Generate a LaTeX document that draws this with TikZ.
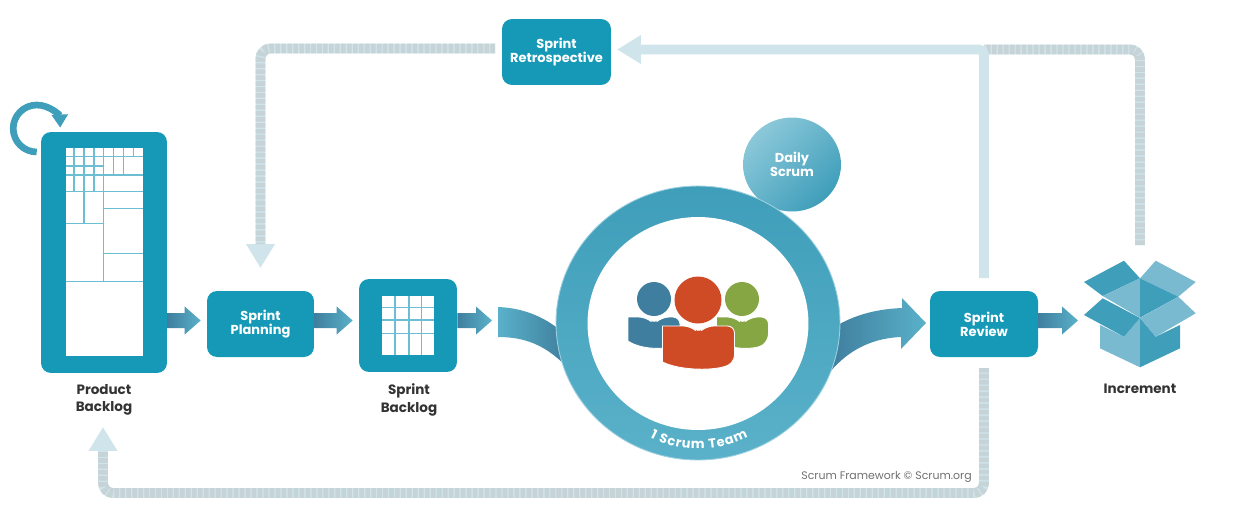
\documentclass[tikz,border=0pt]{standalone}
\usepackage{fontspec}
\setmainfont{Poppins}
\usepackage{tikz}
\usetikzlibrary{shapes,arrows.meta,positioning,calc,decorations.text}
\definecolor{scrumteal}{HTML}{1699B7}
\definecolor{ringdark}{HTML}{3F9EBA}
\definecolor{ringlight}{HTML}{5AB1C9}
\definecolor{flowdark}{HTML}{3F7E9E}
\definecolor{boxlight}{HTML}{7ABAD0}
\definecolor{bandlight}{HTML}{CFE4EB}
\definecolor{bandgrey}{HTML}{C6D4D8}
\definecolor{gridline}{HTML}{6CBFD2}
\definecolor{labeldark}{HTML}{333333}
\definecolor{personblue}{HTML}{3F7E9E}
\definecolor{personred}{HTML}{CF4B26}
\definecolor{persongreen}{HTML}{85A642}

% x and y count reference pixels, y goes down
\newcommand{\flowarrow}[2]{
  \coordinate (fbase) at (#1 |- flowy);
  \coordinate (ftip) at ($(#2 |- flowy)+(-6,0)$);
  \shade[flow] ($(fbase)+(0,-7.5)$) -- ($(ftip)+(-16,-7.5)$) -- ($(ftip)+(-16,-14)$) -- (ftip)
    -- ($(ftip)+(-16,14)$) -- ($(ftip)+(-16,7.5)$) -- ($(fbase)+(0,7.5)$) -- cycle;
}
\newcommand{\personbody}[5]{
  \fill[#5, draw=white, line width=0.5pt, rounded corners=4pt] (#1-#3,#2) -- (#1-8,#2)
    -- (#1,#2+7) -- (#1+8,#2) -- (#1+#3,#2)
    -- (#1+#3,#2+#4-7) [sharp corners] .. controls (#1+#3*0.5,#2+#4+2) and (#1-#3*0.5,#2+#4+2) .. (#1-#3,#2+#4-7) -- cycle;
}

\begin{document}
\begin{tikzpicture}[x=0.02cm, y=-0.02cm,
    tealbox/.style={rectangle, fill=scrumteal, rounded corners=0.2cm, inner sep=0pt, text=white,
      align=center, font=\fontsize{7.4pt}{8pt}\selectfont\bfseries},
    caption/.style={align=center, text=labeldark, font=\fontsize{7.7pt}{10pt}\selectfont\bfseries},
    gridlines/.style={draw=gridline, line width=0.9pt},
    flow/.style={left color=flowdark, right color=ringlight},
    band/.style={line width=5.6pt, draw=bandlight, rounded corners=0.2cm},
    dashband/.style={band, postaction={draw=bandgrey, -, dash pattern=on 2.6pt off 0.8pt, shorten >=#1}},
    bandtip/.style={-{Triangle[length=13.6pt,width=15.5pt]}}
]
\useasboundingbox (0,0) rectangle (1258,518);
\coordinate (flowy) at (0,320.5);

% backlog
\node[tealbox, minimum width=2.52cm, minimum height=4.82cm] (pbox) at (104,252.5) {};
\node[rectangle, fill=white, inner sep=0pt, minimum width=1.54cm, minimum height=4.16cm] (pgrid) at (104.2,252) {};
\draw[gridlines] (65.7,156.7) -- (142.7,156.7);
\draw[gridlines] (65.7,166) -- (103.3,166);
\draw[gridlines] (65.7,175) -- (142.7,175);
\draw[gridlines] (65.7,191.7) -- (142.7,191.7);
\draw[gridlines] (103.3,208.3) -- (142.7,208.3);
\draw[gridlines] (65.7,223.3) -- (103.3,223.3);
\draw[gridlines] (103.3,253.3) -- (142.7,253.3);
\draw[gridlines] (65.7,281.7) -- (142.7,281.7);
\draw[gridlines] (74,147.7) -- (74,191.7);
\draw[gridlines] (84,147.7) -- (84,223.3);
\draw[gridlines] (94,147.7) -- (94,191.7);
\draw[gridlines] (103.3,147.7) -- (103.3,281.7);
\draw[gridlines] (113.3,147.7) -- (113.3,175);
\draw[gridlines] (123.3,147.7) -- (123.3,175);
\draw[gridlines] (133.3,147.7) -- (133.3,156.7);
\draw[-{Triangle[length=7.5pt,width=9pt]}, draw=ringdark, line width=3.8pt] (36.7,152) arc[start angle=90, end angle=358, radius=23.5];
\node[caption] (pcap) at (104,400) {Product\\Backlog};

% planning and sprint backlog
\node[tealbox, minimum width=2.14cm, minimum height=1.32cm] (plan) at (260.5,324) {Sprint\\Planning};
\node[tealbox, minimum width=1.96cm, minimum height=1.86cm] (sbox) at (408,325.5) {};
\node[rectangle, fill=white, inner sep=0pt, minimum width=1.04cm, minimum height=1.18cm] (sgrid) at (408,325.5) {};
\foreach \xg in {395,409,421.7} \draw[gridlines] (\xg,296) -- (\xg,355);
\foreach \yg in {307.3,320,333.3} \draw[gridlines] (382,\yg) -- (434,\yg);
\node[caption] (scap) at (409,400) {Sprint\\Backlog};
\flowarrow{pbox.east}{plan.west}
\flowarrow{plan.east}{sbox.west}

% team circle
\coordinate (swin) at (498,320);
\flowarrow{sbox.east}{swin}
\shade[left color=ringlight, right color=flowdark] (498,307) .. controls (525,308) and (545,318) .. (560,330)
  -- (566,366) .. controls (545,345) and (525,337) .. (498,337) -- cycle;
\shade[left color=flowdark, right color=ringlight] (830,330) .. controls (850,316) and (875,309) .. (902,308)
  -- (902,298) -- (926,323) -- (901,349) -- (901,337) .. controls (875,338) and (850,348) .. (830,372) -- cycle;
\node[ellipse, minimum width=1.96cm, minimum height=1.88cm, inner sep=0pt, text=white, align=center,
  top color=ringlight!70!white, middle color=ringlight, bottom color=ringdark, shading angle=45,
  font=\fontsize{7.4pt}{8pt}\selectfont\bfseries] (daily) at (792,164.5) {Daily\\Scrum};
\node[ellipse, minimum width=5.68cm, minimum height=5.48cm, inner sep=0pt, draw=ringlight!60!white, line width=0.5pt,
  top color=ringdark, bottom color=ringlight] (ring) at (698,323) {};
\node[ellipse, minimum width=4.42cm, minimum height=4.26cm, inner sep=0pt, fill=white] (ringin) at (698,323.5) {};
\path[postaction={decorate, decoration={text along path, text align=fit to path,
  text={|\fontsize{7.4pt}{8pt}\selectfont\bfseries\color{white}|1 Scrum Team}}}]
  (650,437) .. controls (680,453) and (716,453) .. (748,437);

% people
\fill[personblue] (654,299) circle (17);
\fill[persongreen] (742,299) circle (17);
\personbody{654}{317}{26}{31}{personblue}
\personbody{742.5}{317}{26}{31}{persongreen}
\fill[personred] (698,300) circle (23.5);
\personbody{698.5}{326}{36}{43}{personred}

% review and increment
\node[tealbox, minimum width=2.16cm, minimum height=1.32cm] (review) at (984,324) {Sprint\\Review};
\coordinate (incw) at (1084,320);
\flowarrow{review.east}{incw}
\fill[ringdark] (1084,282) -- (1124,260.7) -- (1140,278.3) -- (1102.7,296) -- cycle;
\fill[boxlight] (1140,278.3) -- (1155.7,260.7) -- (1195.7,282) -- (1178.3,296.7) -- cycle;
\fill[boxlight] (1140,278.3) -- (1102.7,296) -- (1140,317.7) -- cycle;
\fill[ringdark] (1140,278.3) -- (1178.3,296.7) -- (1140,317.7) -- cycle;
\fill[boxlight] (1100,325) -- (1124,336.7) -- (1140,318) -- (1140,367.3) -- (1100,348.3) -- cycle;
\fill[ringdark] (1140,318) -- (1155.7,336.7) -- (1180,325) -- (1180,348.3) -- (1140,367.3) -- cycle;
\fill[ringdark] (1102.7,298.3) -- (1140,318) -- (1124,336.7) -- (1084,315) -- cycle;
\fill[boxlight] (1178.3,296.7) -- (1195.7,313.3) -- (1155.7,336.7) -- (1140,318) -- cycle;
\node[caption] (icap) at (1140,389) {Increment};

% retrospective and the loops
\node[tealbox, minimum width=2.18cm, minimum height=1.32cm] (retro) at (556.5,52) {Sprint\\Retrospective};
\coordinate (retroout) at (495,48.5);
\coordinate (retroin) at (617,49.5);
\coordinate (planin) at (260.5,268);
\coordinate (pbin) at (103,427);
\coordinate (revout) at (984,278);
\coordinate (revdown) at (984,368);
\coordinate (incout) at (1140,245);
\coordinate (incjoin) at (984,49.5);
\draw[dashband=13.6pt, bandtip] (retroout) -- (260.5,48.5) -- (planin);
\draw[dashband=13.6pt, bandtip] (revdown) -- (984,493) -- (103,493) -- (pbin);
\draw[dashband=0pt] (incout) -- (1140,49.5) -- (incjoin);
\draw[band, rounded corners=0.1cm, bandtip] (revout) -- (984,49.5) -- (retroin);

\node[text=labeldark!70!white, font=\fontsize{6.25pt}{7pt}\selectfont] (credit) at (886.5,477) {Scrum Framework © Scrum.org};
\end{tikzpicture}
\end{document}
